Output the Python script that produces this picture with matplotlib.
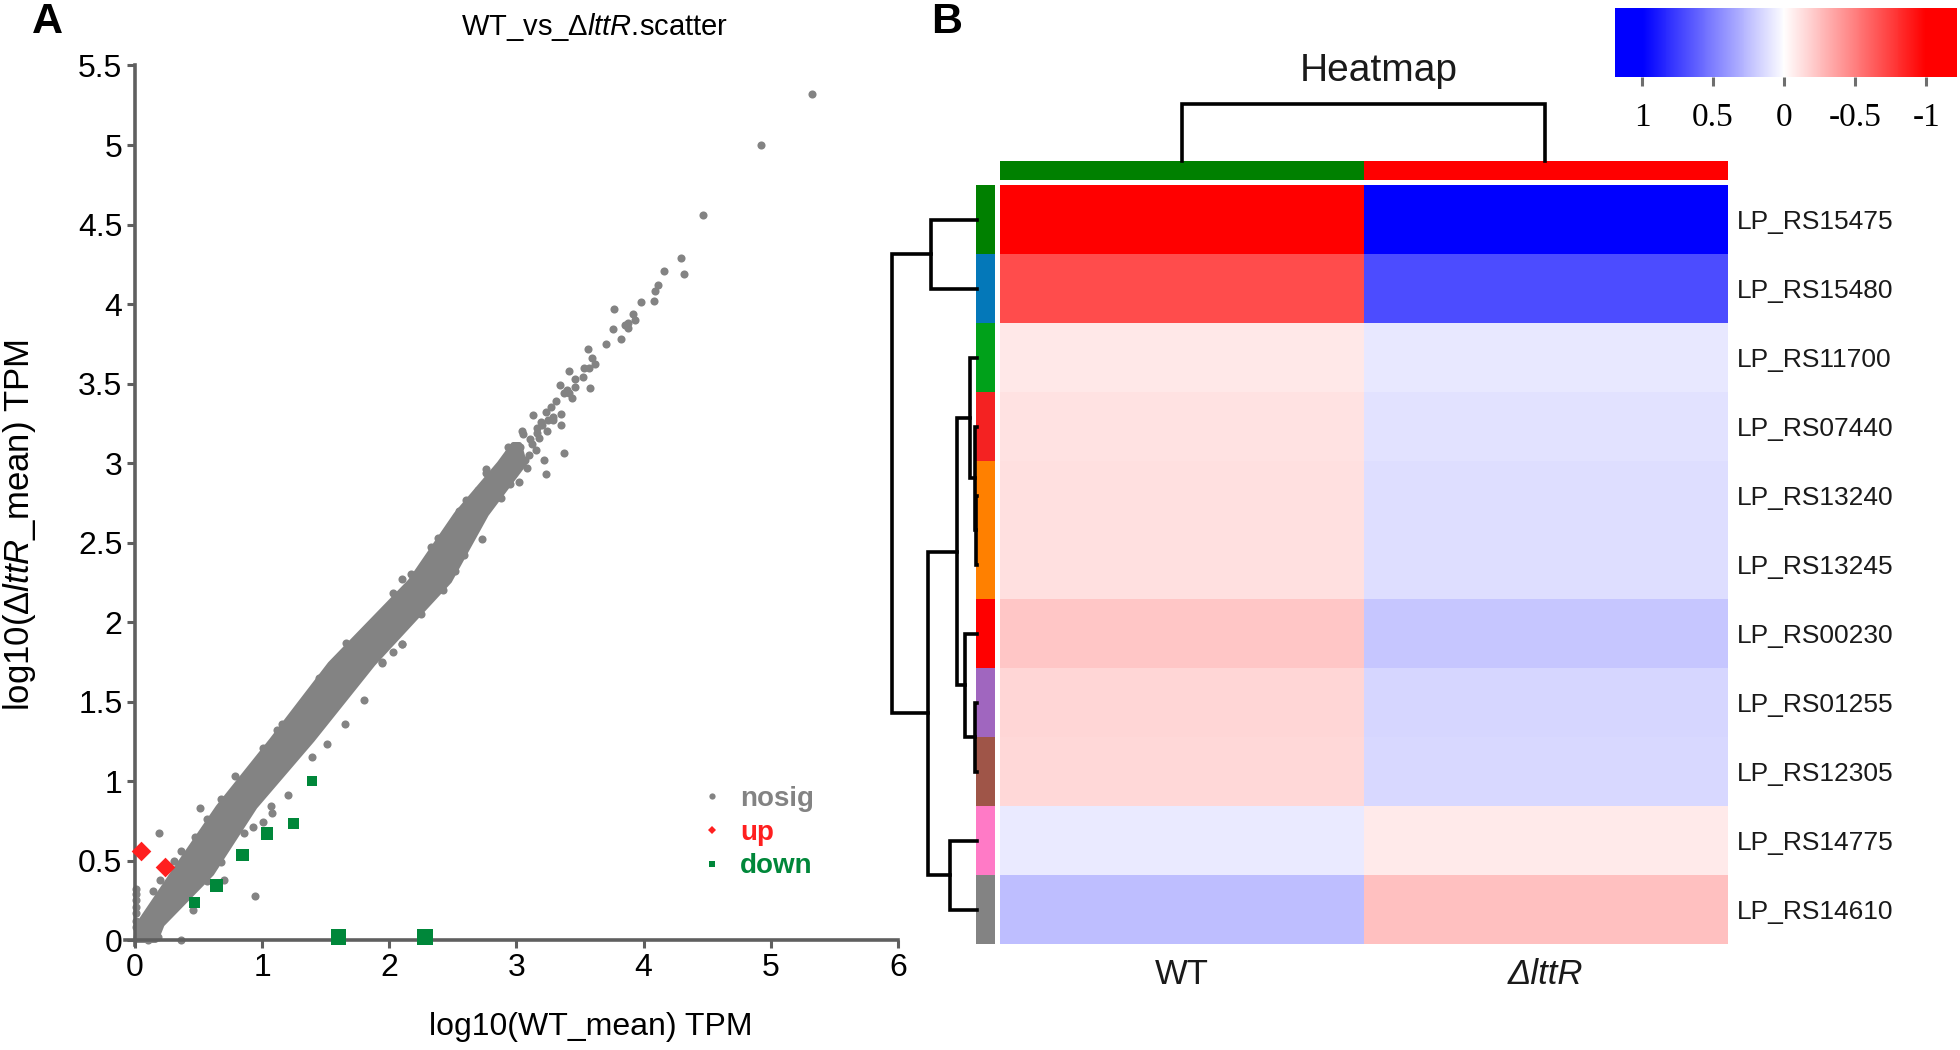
import matplotlib
matplotlib.use("Agg")
import matplotlib.pyplot as plt
from matplotlib.colors import LinearSegmentedColormap, ListedColormap
from matplotlib.lines import Line2D
import numpy as np

plt.rcParams['font.family'] = ['Liberation Sans', 'DejaVu Sans']
plt.rcParams['mathtext.fontset'] = 'custom'
plt.rcParams['mathtext.rm'] = 'Liberation Sans'
plt.rcParams['mathtext.it'] = 'Liberation Sans:italic'
NARROW = ['Liberation Sans Narrow', 'Liberation Sans', 'DejaVu Sans']

# ---------------- panel A data (log10 TPM) ----------------
# dense core of the nosig cloud: left / right edge of the band at each level
band_y = [0.0, 0.10, 0.42, 0.84, 1.26, 1.74, 2.26, 2.68, 3.00, 3.12]
band_lo_x = [0.0, 0.02, 0.29, 0.65, 1.07, 1.53, 2.16, 2.52, 2.86, 2.97]
band_hi_x = [0.16, 0.21, 0.60, 0.94, 1.39, 1.87, 2.47, 2.76, 3.06, 3.02]

# individual nosig genes that stand out of the core
nosig_x = [5.32, 4.92, 4.47, 4.29, 4.32, 4.16, 4.11, 4.09, 4.08, 3.98, 3.77, 3.92, 3.85, 3.88,
           3.93, 3.88, 3.76, 3.82, 3.70, 3.56, 3.59, 3.62, 3.57, 3.53, 3.41, 3.52, 3.46, 3.46,
           3.58, 3.34, 3.40, 3.37, 3.44, 3.41, 3.31, 3.27, 3.23, 3.35, 3.25, 3.29, 3.13, 3.20,
           3.35, 3.16, 3.24, 3.16, 3.05, 3.11, 3.37, 3.22, 3.07, 3.23, 2.93, 2.98, 2.89, 2.76,
           2.84, 2.70, 2.60, 2.55, 3.19, 3.29, 3.12, 3.18, 3.03, 3.15, 3.10, 3.00, 3.08, 2.95,
           3.02,
           2.76, 2.73, 2.94, 3.04, 2.95, 2.88, 2.52, 2.42, 2.59, 2.33, 2.38, 2.10, 2.17, 2.03,
           2.25, 2.10, 1.94, 1.66, 1.45, 2.54, 2.69,
           0.19, 0.20, 0.14, 0.01, 0.01, 0.01, 0.01, 0.01, 0.01, 0.01, 0.36, 0.94, 0.36, 0.31,
           0.47, 0.51, 0.68, 0.79, 0.57, 1.01, 1.12, 1.16, 1.32, 0.57, 0.70, 0.68, 1.01, 1.08,
           1.07, 1.20, 1.39, 1.51, 1.65, 1.80, 1.94, 2.03, 2.10, 0.86, 0.93, 0.46, 0.18, 0.10]
nosig_y = [5.32, 5.00, 4.56, 4.29, 4.19, 4.21, 4.12, 4.08, 4.02, 4.01, 3.97, 3.94, 3.87, 3.88,
           3.90, 3.85, 3.84, 3.78, 3.75, 3.72, 3.66, 3.62, 3.60, 3.60, 3.58, 3.54, 3.53, 3.48,
           3.47, 3.49, 3.46, 3.44, 3.41, 3.44, 3.39, 3.35, 3.32, 3.31, 3.27, 3.27, 3.30, 3.24,
           3.24, 3.22, 3.20, 3.19, 3.18, 3.15, 3.06, 3.02, 3.02, 2.93, 3.10, 3.06, 2.99, 2.96,
           2.91, 2.83, 2.77, 2.70, 3.26, 3.29, 3.12, 3.16, 3.10, 3.08, 3.05, 3.00, 2.97, 2.92,
           2.88,
           2.94, 2.52, 3.07, 3.20, 2.87, 2.78, 2.32, 2.20, 2.42, 2.47, 2.53, 2.27, 2.30, 2.18,
           2.05, 1.86, 1.75, 1.87, 1.65, 2.68, 2.82,
           0.67, 0.38, 0.31, 0.32, 0.29, 0.25, 0.21, 0.17, 0.12, 0.08, 0.00, 0.28, 0.56, 0.50,
           0.65, 0.83, 0.89, 1.03, 0.76, 1.21, 1.32, 1.36, 1.50, 0.37, 0.38, 0.49, 0.74, 0.80,
           0.84, 0.91, 1.15, 1.23, 1.36, 1.51, 1.74, 1.81, 1.86, 0.67, 0.71, 0.19, 0.02, 0.00]

up_x = [0.05, 0.24]
up_y = [0.56, 0.46]

down_x = [1.39, 1.25, 1.04, 0.845, 0.64, 0.465, 1.60, 2.28]
down_y = [1.00, 0.73, 0.67, 0.533, 0.34, 0.235, 0.02, 0.02]
down_size = [55, 62, 80, 80, 88, 62, 125, 125]

x_ticks = [0, 1, 2, 3, 4, 5, 6]
y_ticks = [0, 0.5, 1, 1.5, 2, 2.5, 3, 3.5, 4, 4.5, 5, 5.5]
y_tick_labels = ['0', '0.5', '1', '1.5', '2', '2.5', '3', '3.5', '4', '4.5', '5', '5.5']

# ---------------- panel B data ----------------
genes = ['LP_RS15475', 'LP_RS15480', 'LP_RS11700', 'LP_RS07440', 'LP_RS13240', 'LP_RS13245',
         'LP_RS00230', 'LP_RS01255', 'LP_RS12305', 'LP_RS14775', 'LP_RS14610']
samples = ['WT', 'ΔlttR']
wt_z = [-1.0, -0.70, -0.09, -0.11, -0.125, -0.125, -0.22, -0.16, -0.15, 0.08, 0.25]
mut_z = [1.0, 0.70, 0.09, 0.11, 0.125, 0.125, 0.22, 0.16, 0.15, -0.08, -0.25]
row_colors = ['#008000', '#0478b9', '#00a11a', '#f42222', '#ff8000', '#ff8000',
              '#ff0000', '#a066bf', '#9f5548', '#ff7ac6', '#838383']
col_colors = ['#008000', '#ff0000']
# row linkage: (child a, child b, height); leaves 0..10, new clusters from 11
row_links = [(4, 5, 0.01), (3, 11, 0.027), (2, 12, 0.078), (7, 8, 0.02), (6, 14, 0.137),
             (13, 15, 0.235), (9, 10, 0.32), (0, 1, 0.537), (16, 17, 0.58), (18, 19, 1.0)]
cbar_ticks = [1, 0.5, 0, -0.5, -1]
cbar_labels = ['1', '0.5', '0', '-0.5', '-1']

GRAY = '#838383'
AXC = '#5f5f5f'
W, H = 1960, 1050
fig = plt.figure(figsize=(W / 100, H / 100), dpi=100)


def px_axes(l, t, r, b):
    return fig.add_axes([l / W, 1 - b / H, (r - l) / W, (b - t) / H])


# ---------------- panel A ----------------
ax = px_axes(124.8, 65.5, 898, 944.8)
ax.set_xlim(-0.08, 6)
ax.set_ylim(-0.03, 5.5)
ax.fill_betweenx(band_y, band_lo_x, band_hi_x, facecolor=GRAY, edgecolor=GRAY,
                 linewidth=3.5, joinstyle='round')
ax.scatter(nosig_x, nosig_y, s=34, c=GRAY, lw=0, clip_on=False, zorder=2)
ax.scatter(up_x, up_y, marker='D', s=100, c='#ff1f1f', lw=0, clip_on=False, zorder=4)
ax.scatter(down_x, down_y, marker='s', s=down_size, c='#00873a', lw=0, clip_on=False, zorder=4)

for side in ['top', 'right']:
    ax.spines[side].set_visible(False)
for side in ['left', 'bottom']:
    ax.spines[side].set_color(AXC)
    ax.spines[side].set_linewidth(2.6)
ax.spines['left'].set_position(('data', 0))
ax.spines['bottom'].set_position(('data', 0))
ax.set_xticks(x_ticks)
ax.set_xticklabels([str(t) for t in x_ticks])
ax.set_yticks(y_ticks)
ax.set_yticklabels(y_tick_labels)
ax.tick_params(direction='out', length=6, width=2.2, color=AXC, labelsize=23, pad=3)
for lbl in ax.get_xticklabels() + ax.get_yticklabels():
    lbl.set_family(NARROW)

handles = [Line2D([], [], ls='', marker='o', ms=4.5, color=GRAY, mew=0),
           Line2D([], [], ls='', marker='D', ms=3.6, color='#ff1f1f', mew=0),
           Line2D([], [], ls='', marker='s', ms=4.5, color='#00873a', mew=0)]
leg = ax.legend(handles, ['nosig', 'up', 'down'], loc='upper left',
                bbox_to_anchor=(690 / W, 1 - 772 / H), bbox_transform=fig.transFigure,
                frameon=False, borderpad=0, handlelength=0.6, handletextpad=0.7,
                labelspacing=0.28, prop=dict(family=NARROW, weight='bold', size=20))
for txt, col in zip(leg.get_texts(), [GRAY, '#ff1f1f', '#00873a']):
    txt.set_color(col)

fig.text(594 / W, 1 - 27 / H, r'WT_vs_$\mathit{ΔlttR}$.scatter', fontsize=21,
         family=NARROW, ha='center', va='center')
fig.text(591 / W, 1 - 1027 / H, 'log10(WT_mean) TPM', fontsize=23, family=NARROW,
         ha='center', va='center')
fig.text(20 / W, 1 - 525 / H, r'log10($\mathit{ΔlttR}$_mean) TPM', fontsize=25,
         rotation=90, ha='center', va='center')
fig.text(47 / W, 1 - 22 / H, 'A', fontsize=31, weight='bold', ha='center', va='center')
fig.text(947 / W, 1 - 22 / H, 'B', fontsize=31, weight='bold', ha='center', va='center')

# ---------------- panel B ----------------
cmap = LinearSegmentedColormap.from_list('rwb', ['#ff0000', '#ffffff', '#0000ff'])
mat = np.column_stack([wt_z, mut_z])
n = len(genes)

ax_hm = px_axes(1000, 185, 1727, 944)
ax_hm.imshow(mat, cmap=cmap, vmin=-1, vmax=1, aspect='auto', interpolation='nearest')
for sp in ax_hm.spines.values():
    sp.set_visible(False)
ax_hm.yaxis.tick_right()
ax_hm.set_yticks(range(n))
ax_hm.set_yticklabels(genes)
ax_hm.set_xticks(range(len(samples)))
ax_hm.set_xticklabels(samples)
ax_hm.tick_params(axis='y', length=0, pad=7, labelsize=19, labelcolor='#1a1a1a')
ax_hm.tick_params(axis='x', length=0, pad=10, labelsize=25, labelcolor='#1a1a1a')
ax_hm.get_xticklabels()[1].set_fontstyle('italic')

ax_rc = px_axes(976, 185, 995, 944)
ax_rc.imshow(np.arange(n)[:, None], cmap=ListedColormap(row_colors), aspect='auto',
             interpolation='nearest')
ax_rc.axis('off')

ax_cc = px_axes(1000, 161, 1727, 180)
ax_cc.imshow(np.arange(len(samples))[None, :], cmap=ListedColormap(col_colors), aspect='auto',
             interpolation='nearest')
ax_cc.axis('off')

# column dendrogram (two samples joined once)
ax_cd = px_axes(1000, 104, 1727, 161)
ax_cd.set_xlim(-0.5, len(samples) - 0.5)
ax_cd.set_ylim(0, 1)
ax_cd.plot([0, 0, 1, 1], [0, 1, 1, 0], color='black', lw=2.6, clip_on=False,
           solid_joinstyle='miter')
ax_cd.axis('off')

# row dendrogram
ax_rd = px_axes(892, 185, 977, 944)
ax_rd.set_xlim(1.0, 0)
ax_rd.set_ylim(n - 0.5, -0.5)
pos = {i: float(i) for i in range(n)}
hgt = {i: 0.0 for i in range(n)}
for k, (a, b, h) in enumerate(row_links):
    ax_rd.plot([hgt[a], h, h, hgt[b]], [pos[a], pos[a], pos[b], pos[b]], color='black',
               lw=2.6, clip_on=False, solid_joinstyle='miter')
    pos[n + k] = (pos[a] + pos[b]) / 2
    hgt[n + k] = h
ax_rd.axis('off')

fig.text(1379 / W, 1 - 71 / H, 'Heatmap', fontsize=28, ha='center', va='center',
         color='#1a1a1a')

# colour key
ax_cb = px_axes(1615, 8, 1957, 77)
lo, hi = 1.19, -1.215
grad = np.linspace(lo, hi, 300)[None, :]
ax_cb.imshow(grad, cmap=cmap, vmin=-1, vmax=1, aspect='auto', extent=(lo, hi, 0, 1))
ax_cb.set_xlim(lo, hi)
ax_cb.set_yticks([])
for sp in ax_cb.spines.values():
    sp.set_visible(False)
ax_cb.set_xticks(cbar_ticks)
ax_cb.set_xticklabels(cbar_labels)
ax_cb.tick_params(axis='x', length=6.5, width=2.2, color='#6e6e6e', pad=12, labelsize=24)
for lbl in ax_cb.get_xticklabels():
    lbl.set_family(['Liberation Serif', 'DejaVu Serif'])

fig.savefig('out.png', dpi=100)
